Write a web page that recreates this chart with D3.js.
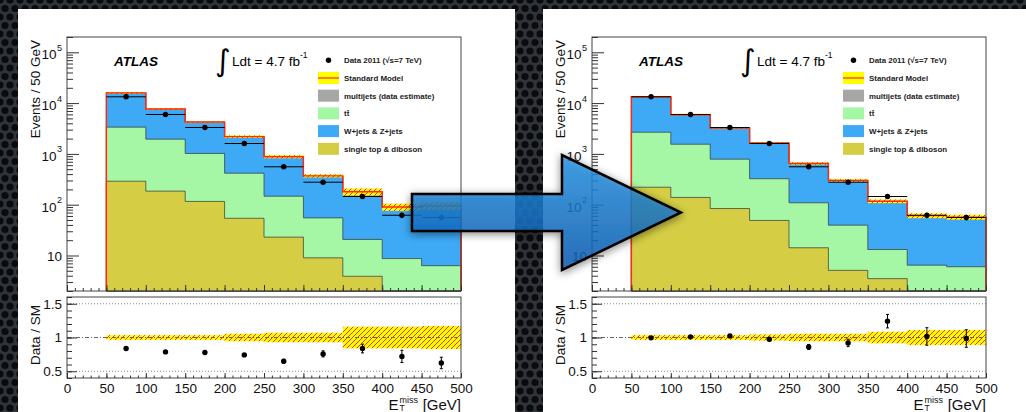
<!DOCTYPE html>
<html>
<head>
<meta charset="utf-8">
<title>ATLAS missing ET - before / after</title>
<style>
body { margin:0; background:#1e2125; }
svg { display:block; font-family:"Liberation Sans", Arial, Helvetica, sans-serif; }
</style>
</head>
<body>
<svg id="chart" width="1026" height="412"></svg>
<script src="https://cdn.jsdelivr.net/npm/d3@7"></script>
<script>
// bins of 50 GeV from 50 to 500
const binLow = [50, 100, 150, 200, 250, 300, 350, 400, 450]
const binWidth = 50
const data2011 = [13300, 5970, 3310, 1600, 557, 277, 145, 62, 56]

// left plot (before)
const leftDiboson  = [290, 185, 116, 54, 23, 9, 3.9, 0, 0]
const leftTtbar    = [3070, 1765, 904, 363, 124, 46, 16.8, 8.7, 6.3]
const leftWZ       = [12240, 5550, 3130, 1733, 718, 309, 156, 80, 87]
const leftMultijet = [300, 150, 80, 40, 15, 6, 3, 1.5, 1.5]
const leftBandErr  = [0.035, 0.035, 0.035, 0.055, 0.07, 0.07, 0.16, 0.16, 0.17]
const leftRatio    = [0.837, 0.787, 0.777, 0.742, 0.648, 0.757, 0.837, 0.72, 0.623]
const leftRatioErr = [0.007, 0.01, 0.014, 0.019, 0.028, 0.045, 0.065, 0.09, 0.085]

// right plot (after)
const rightDiboson  = [221, 139, 84, 49, 14.2, 5.1, 3.5, 0, 0]
const rightTtbar    = [2449, 1411, 703, 275, 94.8, 34.4, 9.6, 6.45, 6.0]
const rightWZ       = [10400, 4240, 2383, 1286, 527, 256.5, 101.9, 53.5, 50]
const rightMultijet = [300, 120, 60, 30, 12, 5, 2, 1, 1]
const rightBandErr  = [0.035, 0.035, 0.035, 0.045, 0.055, 0.055, 0.085, 0.11, 0.11]
const rightRatio    = [0.995, 1.01, 1.024, 0.975, 0.86, 0.92, 1.242, 1.015, 0.985]
const rightRatioErr = [0.009, 0.013, 0.018, 0.024, 0.037, 0.055, 0.1, 0.13, 0.13]

const stackColors = ["#d5ce45", "#a5f7a5", "#3ea9f5", "#a6a6a6"]  // diboson, ttbar, W/Z, multijet
const legendLabels = ["Data 2011 (\u221As=7 TeV)", "Standard Model", "multijets (data estimate)", "t\u0074\u0304", "W+jets & Z+jets", "single top & diboson"]
const xTicks = [0, 50, 100, 150, 200, 250, 300, 350, 400, 450, 500]
const logTicks = [10, 100, 1000, 10000, 100000]
const ratioTicks = [0.5, 1, 1.5]

const panels = [
  { dx: 0,   stack: [leftDiboson, leftTtbar, leftWZ, leftMultijet], band: leftBandErr, ratio: leftRatio, rerr: leftRatioErr },
  { dx: 525, stack: [rightDiboson, rightTtbar, rightWZ, rightMultijet], band: rightBandErr, ratio: rightRatio, rerr: rightRatioErr }
]

const svg = d3.select("#chart")
const defs = svg.append("defs")

// perforated metal background
const bg = defs.append("pattern").attr("id", "holes").attr("patternUnits", "userSpaceOnUse")
  .attr("width", 10).attr("height", 17)
bg.append("rect").attr("width", 10).attr("height", 17).attr("fill", "#30343a")
;[[0,0],[10,0],[0,17],[10,17],[5,8.5]].forEach(p => {
  bg.append("circle").attr("cx", p[0]).attr("cy", p[1]).attr("r", 3.6).attr("fill", "#0a0b0d")
})

const hatch = defs.append("pattern").attr("id", "hatch").attr("patternUnits", "userSpaceOnUse")
  .attr("width", 5).attr("height", 5)
hatch.append("rect").attr("width", 5).attr("height", 5).attr("fill", "#ffff00")
hatch.append("path").attr("d", "M-1,1 l2,-2 M0,5 l5,-5 M4,6 l2,-2")
  .attr("stroke", "#ff2a10").attr("stroke-width", 1)

const grad = defs.append("linearGradient").attr("id", "arrowgrad")
  .attr("x1", 0).attr("y1", 0).attr("x2", 0).attr("y2", 1)
grad.append("stop").attr("offset", "0%").attr("stop-color", "#2796e6")
grad.append("stop").attr("offset", "100%").attr("stop-color", "#0a5db5")

const shadow = defs.append("filter").attr("id", "shadow").attr("x", "-20%").attr("y", "-30%")
  .attr("width", "140%").attr("height", "160%")
shadow.append("feDropShadow").attr("dx", 0).attr("dy", 2).attr("stdDeviation", 4)
  .attr("flood-color", "#000").attr("flood-opacity", 0.55)

svg.append("rect").attr("width", 1026).attr("height", 412).attr("fill", "url(#holes)")

const x = d3.scaleLinear().domain([0, 500]).range([67, 461])
const yUp = d3.scaleLog().domain([2, 2e5]).range([291, 37]).clamp(true)
const yLo = d3.scaleLinear().domain([0.4, 1.6]).range([378, 297])
const yv = v => yUp(Math.max(v, 1))

function drawPanel(p) {
  const g = svg.append("g").attr("transform", "translate(" + p.dx + ",0)")
  g.append("rect").attr("x", 18).attr("y", 9).attr("width", 497).attr("height", 420).attr("fill", "#fff")

  // cumulative stack
  const cum = []
  p.stack.forEach((s, k) => {
    cum.push(s.map((v, i) => v + (k > 0 ? cum[k - 1][i] : 0)))
  })
  const total = cum[cum.length - 1]

  const pts = vals => binLow.map((b, i) => [b, vals[i]]).concat([[500, vals[vals.length - 1]]])
  const area = d3.area().curve(d3.curveStepAfter)
    .x(d => x(d[0])).y0(291).y1(d => yv(d[1]))

  for (let k = cum.length - 1; k >= 0; k--) {
    g.append("path").attr("d", area(pts(cum[k])))
      .attr("fill", stackColors[k]).attr("stroke", "#333").attr("stroke-width", 0.7)
  }

  // SM uncertainty band
  g.selectAll("rect.band").data(binLow).join("rect").attr("class", "band")
    .attr("x", d => x(d)).attr("width", d => x(d + binWidth) - x(d))
    .attr("y", (d, i) => yv(total[i] * (1 + p.band[i])))
    .attr("height", (d, i) => yv(total[i] * (1 - p.band[i])) - yv(total[i] * (1 + p.band[i])))
    .attr("fill", "url(#hatch)")

  // SM total outline
  const line = d3.line().curve(d3.curveStepAfter).x(d => x(d[0])).y(d => d[1] === null ? 291 : yv(d[1]))
  const outline = [[50, null]].concat(pts(total)).concat([[500, null]])
  g.append("path").attr("d", line(outline)).attr("fill", "none")
    .attr("stroke", "#ff2a10").attr("stroke-width", 1.4)

  // data
  const dg = g.append("g")
  binLow.forEach((b, i) => {
    const c = b + binWidth / 2
    const e = data2011[i] * p.rerr[i] / p.ratio[i]
    dg.append("line").attr("x1", x(b)).attr("x2", x(b + binWidth))
      .attr("y1", yv(data2011[i])).attr("y2", yv(data2011[i])).attr("stroke", "#000").attr("stroke-width", 1)
    dg.append("line").attr("x1", x(c)).attr("x2", x(c))
      .attr("y1", yv(data2011[i] + e)).attr("y2", yv(data2011[i] - e)).attr("stroke", "#000")
    dg.append("circle").attr("cx", x(c)).attr("cy", yv(data2011[i])).attr("r", 2.7).attr("fill", "#000")
  })

  g.append("rect").attr("x", 67).attr("y", 37).attr("width", 394).attr("height", 254)
    .attr("fill", "none").attr("stroke", "#444").attr("stroke-width", 1)

  // upper axes ticks
  const ax1 = g.append("g").attr("transform", "translate(0,291)")
    .call(d3.axisBottom(x).tickValues(xTicks).tickSize(-6).tickFormat(""))
  const ax1m = g.append("g").attr("transform", "translate(0,291)")
    .call(d3.axisBottom(x).tickValues(d3.range(0, 501, 10)).tickSize(-3).tickFormat(""))
  const ay1 = g.append("g").attr("transform", "translate(67,0)")
    .call(d3.axisLeft(yUp).tickValues(logTicks).tickSize(-12).tickFormat(""))
  const ay1m = g.append("g").attr("transform", "translate(67,0)")
    .call(d3.axisLeft(yUp).tickValues(yUp.ticks().filter(t => logTicks.indexOf(t) < 0)).tickSize(-6).tickFormat(""))
  ;[ax1, ax1m, ay1, ay1m].forEach(a => { a.select(".domain").remove(); a.selectAll("line").attr("stroke", "#333") })

  logTicks.forEach(t => {
    const n = Math.round(Math.log10(t))
    const tx = g.append("text").attr("x", 62).attr("text-anchor", "end")
      .attr("font-size", 13.5).attr("fill", "#111")
    if (n === 1) {
      tx.attr("y", yUp(t) + 5.5).text("10")
    } else {
      tx.attr("y", yUp(t) + 7).text("10")
      tx.append("tspan").attr("font-size", 9).attr("dy", -8.5).attr("dx", 0.5).text(n)
    }
  })

  g.append("text").attr("transform", "translate(40,40) rotate(-90)").attr("text-anchor", "end")
    .attr("font-size", 13.5).attr("fill", "#111").text("Events / 50 GeV")

  // labels
  g.append("text").attr("x", 114).attr("y", 65.5).attr("font-size", 13.5)
    .attr("font-weight", "bold").attr("font-style", "italic").attr("fill", "#000").text("ATLAS")
  g.append("text").attr("x", 215).attr("y", 71).attr("font-size", 30)
    .attr("font-family", "DejaVu Sans").attr("fill", "#000").text("\u222B")
  const lum = g.append("text").attr("x", 232).attr("y", 65.5).attr("font-size", 13.5).attr("fill", "#000").text("Ldt = 4.7 fb")
  lum.append("tspan").attr("font-size", 8.5).attr("dy", -8).text("-1")

  // legend
  legendLabels.forEach((lab, i) => {
    const ly = 60.3 + i * 17.7
    if (i === 0) {
      g.append("circle").attr("cx", 328.5).attr("cy", ly).attr("r", 2.7).attr("fill", "#000")
    } else if (i === 1) {
      g.append("rect").attr("x", 318).attr("y", ly - 6).attr("width", 21).attr("height", 12).attr("fill", "#ffff00")
      g.append("line").attr("x1", 318).attr("x2", 339).attr("y1", ly).attr("y2", ly).attr("stroke", "#ff2a10").attr("stroke-width", 1.2)
    } else {
      const col = [stackColors[3], stackColors[1], stackColors[2], stackColors[0]][i - 2]
      g.append("rect").attr("x", 318).attr("y", ly - 6).attr("width", 21).attr("height", 12).attr("fill", col)
    }
    g.append("text").attr("x", 344).attr("y", ly + 3).attr("font-size", 7.9).attr("font-weight", "bold")
      .attr("fill", "#222").text(lab)
  })

  // ratio pad
  ;[0.5, 1.5].forEach(v => {
    g.append("line").attr("x1", 67).attr("x2", 461).attr("y1", yLo(v)).attr("y2", yLo(v))
      .attr("stroke", "#888").attr("stroke-width", 1).attr("stroke-dasharray", "1,2")
  })
  g.selectAll("rect.rband").data(binLow).join("rect").attr("class", "rband")
    .attr("x", d => x(d)).attr("width", d => x(d + binWidth) - x(d))
    .attr("y", (d, i) => yLo(1 + p.band[i]))
    .attr("height", (d, i) => yLo(1 - p.band[i]) - yLo(1 + p.band[i]))
    .attr("fill", "url(#hatch)")
  g.append("line").attr("x1", 67).attr("x2", 461).attr("y1", yLo(1)).attr("y2", yLo(1))
    .attr("stroke", "#666").attr("stroke-width", 1).attr("stroke-dasharray", "4,2,1,2")

  binLow.forEach((b, i) => {
    const c = x(b + binWidth / 2)
    const r = p.ratio[i], e = p.rerr[i]
    g.append("line").attr("x1", c).attr("x2", c).attr("y1", yLo(r + e)).attr("y2", yLo(r - e)).attr("stroke", "#000")
    ;[r + e, r - e].forEach(v => g.append("line").attr("x1", c - 1.5).attr("x2", c + 1.5)
      .attr("y1", yLo(v)).attr("y2", yLo(v)).attr("stroke", "#000"))
    g.append("circle").attr("cx", c).attr("cy", yLo(r)).attr("r", 2.7).attr("fill", "#000")
  })

  g.append("rect").attr("x", 67).attr("y", 297).attr("width", 394).attr("height", 81)
    .attr("fill", "none").attr("stroke", "#444").attr("stroke-width", 1)

  const ax2 = g.append("g").attr("transform", "translate(0,378)")
    .call(d3.axisBottom(x).tickValues(xTicks).tickSize(-5).tickPadding(5.5).tickFormat(d3.format("d")))
  const ax2m = g.append("g").attr("transform", "translate(0,378)")
    .call(d3.axisBottom(x).tickValues(d3.range(0, 501, 10)).tickSize(-2.5).tickFormat(""))
  const ay2 = g.append("g").attr("transform", "translate(67,0)")
    .call(d3.axisLeft(yLo).tickValues(ratioTicks).tickSize(-10).tickPadding(5).tickFormat(d3.format("~g")))
  const ay2m = g.append("g").attr("transform", "translate(67,0)")
    .call(d3.axisLeft(yLo).tickValues(d3.range(0.4, 1.61, 0.1)).tickSize(-5).tickFormat(""))
  ;[ax2, ax2m, ay2, ay2m].forEach(a => {
    a.select(".domain").remove()
    a.selectAll("line").attr("stroke", "#333")
    a.attr("font-family", null).attr("font-size", 13.5)
    a.selectAll("text").attr("fill", "#111")
  })

  g.append("text").attr("transform", "translate(40,305) rotate(-90)").attr("text-anchor", "end")
    .attr("font-size", 13.5).attr("fill", "#111").text("Data / SM")

  // x axis title
  g.append("text").attr("x", 461).attr("y", 409.5).attr("text-anchor", "end").attr("font-size", 15).attr("fill", "#111").text("[GeV]")
  g.append("text").attr("x", 388.5).attr("y", 409.5).attr("font-size", 15).attr("fill", "#111").text("E")
  g.append("text").attr("x", 399.5).attr("y", 402.5).attr("font-size", 9).attr("fill", "#111").text("miss")
  g.append("text").attr("x", 399.5).attr("y", 411).attr("font-size", 8.5).attr("fill", "#111").text("T")
}

panels.forEach(drawPanel)

// arrow
const arrowPts = [[412, 194], [562, 194], [562, 155], [681, 212.5], [562, 270], [562, 231], [412, 231]]
svg.append("path").attr("d", d3.line()(arrowPts) + "Z")
  .attr("fill", "url(#arrowgrad)").attr("fill-opacity", 0.78)
  .attr("stroke", "#000").attr("stroke-width", 2.5).attr("stroke-linejoin", "miter")
  .attr("filter", "url(#shadow)")
</script>
</body>
</html>
